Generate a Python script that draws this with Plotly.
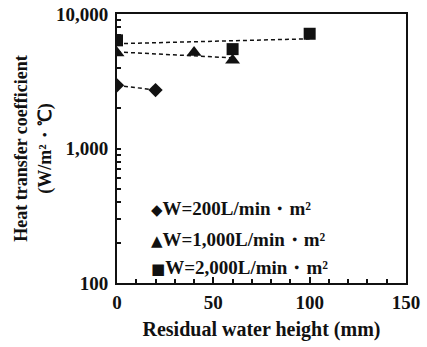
import numpy as np
import plotly.graph_objects as go

# Residual water height (mm) and heat transfer coefficient (W/m²·℃)
x_200 = [0, 20]
h_200 = [2950, 2720]

x_1000 = [0, 40, 60]
h_1000 = [5120, 5180, 4540]

x_2000 = [0, 60, 100]
h_2000 = [6370, 5480, 7130]

series_names = ["W=200L/min・m²", "W=1,000L/min・m²", "W=2,000L/min・m²"]
legend_glyphs = ["◆", "▲", "■"]

y_major = [100, 1000, 10000]
y_major_text = ["100", "1,000", "10,000"]

FONT = "Liberation Serif"
INK = "#111111"


def trend(xs, hs):
    """Exponential trend line (least squares in log space) spanning the data."""
    xs = np.asarray(xs, float)
    k, b = np.polyfit(xs, np.log10(hs), 1)
    xx = np.array([xs.min(), xs.max()])
    return xx, 10 ** (k * xx + b)


fig = go.Figure()

series = [
    (x_200, h_200, "diamond", 11),
    (x_1000, h_1000, "triangle-up", 13),
    (x_2000, h_2000, "square", 12),
]

for i, (xs, hs, sym, size) in enumerate(series):
    tx, ty = trend(xs, hs)
    fig.add_trace(go.Scatter(
        x=tx, y=ty, mode="lines",
        line=dict(color=INK, width=1.5, dash="4px,3px"),
        showlegend=False, hoverinfo="skip",
    ))
    fig.add_trace(go.Scatter(
        x=xs, y=hs, mode="markers", name=series_names[i],
        showlegend=False,
        marker=dict(symbol=sym, size=size, color=INK, line=dict(width=0)),
    ))

# legend block drawn as text rows inside the plot area
legend_rows_y = [0.278, 0.163, 0.056]
for glyph, name, yy in zip(legend_glyphs, series_names, legend_rows_y):
    fig.add_annotation(
        xref="paper", yref="paper", x=0.11, y=yy,
        xanchor="left", yanchor="middle", showarrow=False,
        text=f"<span style='font-family:DejaVu Sans;font-size:15px'>{glyph}</span>{name}",
        font=dict(family=FONT, size=19, color=INK, weight="bold"),
    )

# build y tick positions (decades plus log minor ticks)
y_ticks, y_text = [], []
for d in y_major[:-1]:
    for m in range(1, 10):
        y_ticks.append(d * m)
        y_text.append(y_major_text[y_major.index(d)] if m == 1 else "")
y_ticks.append(y_major[-1])
y_text.append(y_major_text[-1])

fig.update_layout(
    width=427, height=347,
    margin=dict(l=117, r=21, t=14, b=64),
    paper_bgcolor="white", plot_bgcolor="white",
    font=dict(family=FONT, size=19, color=INK, weight="bold"),
    showlegend=False,
)

fig.update_xaxes(
    range=[0, 150], dtick=50, tick0=0, automargin=False,
    showline=True, linecolor=INK, linewidth=2, mirror=True,
    ticks="inside", ticklen=6, tickwidth=1.5, tickcolor=INK,
    minor=dict(dtick=10, ticks="inside", ticklen=4, tickwidth=1.5, tickcolor=INK, showgrid=False),
    showgrid=False, zeroline=False,
    ticklabelstandoff=1,
    tickfont=dict(family=FONT, size=19, weight="bold"),
    title=dict(text="Residual water height (mm)", standoff=10,
               font=dict(family=FONT, size=20, weight="bold")),
)

fig.update_yaxes(
    type="log", range=[2, 4], automargin=False,
    tickvals=y_ticks, ticktext=y_text,
    showline=True, linecolor=INK, linewidth=2, mirror=True,
    ticks="inside", ticklen=4, tickwidth=1.5, tickcolor=INK,
    showgrid=False, zeroline=False,
    ticklabelstandoff=3,
    tickfont=dict(family=FONT, size=19, weight="bold"),
    title=dict(text="Heat transfer coefficient<br>(W/m²・℃)", standoff=0,
               font=dict(family=FONT, size=18, weight="bold")),
)

fig.write_html("out.html")
